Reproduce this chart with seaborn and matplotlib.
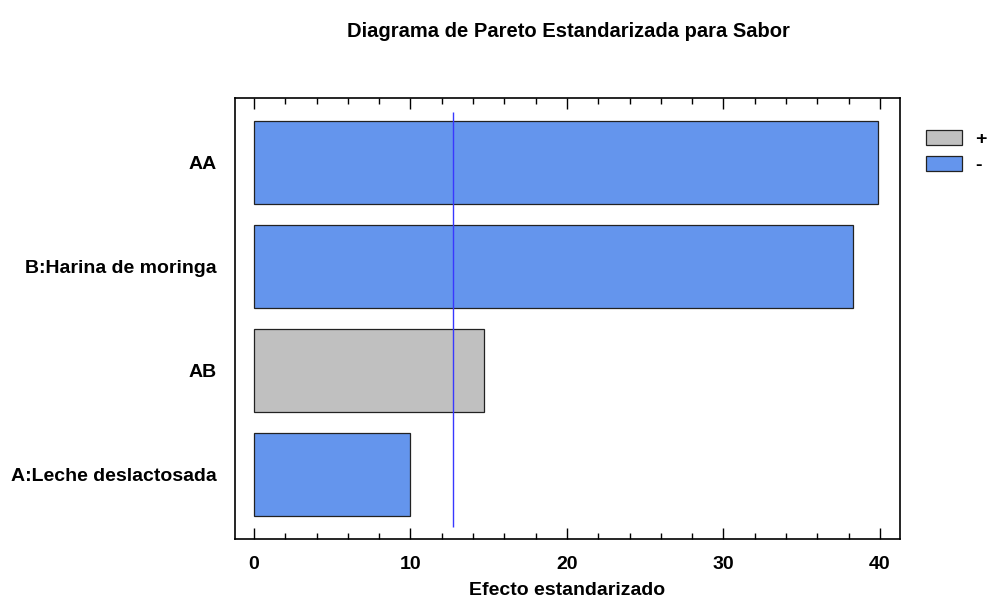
import matplotlib
matplotlib.use("Agg")
import matplotlib.pyplot as plt
from matplotlib.ticker import MultipleLocator
import seaborn as sns
import pandas as pd

# datos del diagrama de Pareto
efectos = ['AA', 'B:Harina de moringa', 'AB', 'A:Leche deslactosada']
valores = [39.9, 38.3, 14.7, 10.0]
signos = ['-', '-', '+', '-']
limite = 12.706

df = pd.DataFrame({'efecto': efectos, 'valor': valores, 'signo': signos})

sns.set_theme(style='white')
plt.rcParams['font.family'] = ['Liberation Sans', 'DejaVu Sans']
plt.rcParams['font.weight'] = 'bold'
plt.rcParams['text.color'] = 'black'
plt.rcParams['axes.labelcolor'] = 'black'
plt.rcParams['xtick.color'] = 'black'
plt.rcParams['ytick.color'] = 'black'

fig = plt.figure(figsize=(9.89, 6.04), dpi=100)
ax = fig.add_axes([0.2376, 0.1076, 0.6724, 0.7301])

sns.barplot(data=df, x='valor', y='efecto', hue='signo', hue_order=['+', '-'],
            palette={'+': '#C0C0C0', '-': '#6495ED'}, dodge=False, width=0.8,
            edgecolor='#222222', linewidth=0.9, saturation=1, ax=ax)

# linea del valor critico
ax.vlines(limite, -0.49, 3.5, color='#3838FF', linewidth=1)

ax.set_xlim(-1.21, 41.28)
ax.set_ylim(3.62, -0.62)
ax.xaxis.set_major_locator(MultipleLocator(10))
ax.xaxis.set_minor_locator(MultipleLocator(2))
ax.tick_params(axis='x', which='both', direction='in', top=True, bottom=True,
               labelsize=14, pad=12)
ax.tick_params(axis='x', which='major', length=8, width=1)
ax.tick_params(axis='x', which='minor', length=4, width=1)
ax.tick_params(axis='y', length=0, labelsize=14, pad=13)
for lab in ax.get_xticklabels() + ax.get_yticklabels():
    lab.set_fontweight('bold')

for s in ax.spines.values():
    s.set_visible(True)
    s.set_color('black')
    s.set_linewidth(1.2)

ax.set_xlabel('Efecto estandarizado', fontsize=14, fontweight='bold', labelpad=7)
ax.set_ylabel('')

ax.legend(loc='upper left', bbox_to_anchor=(1.027, 0.945), frameon=False,
          handlelength=1.85, handleheight=0.8, labelspacing=0.4,
          handletextpad=0.7, borderaxespad=0, prop={'weight': 'bold', 'size': 14})

fig.suptitle('Diagrama de Pareto Estandarizada para Sabor', x=0.575, y=0.963,
             fontsize=14.5, fontweight='bold')

plt.savefig('out.png', dpi=100)
